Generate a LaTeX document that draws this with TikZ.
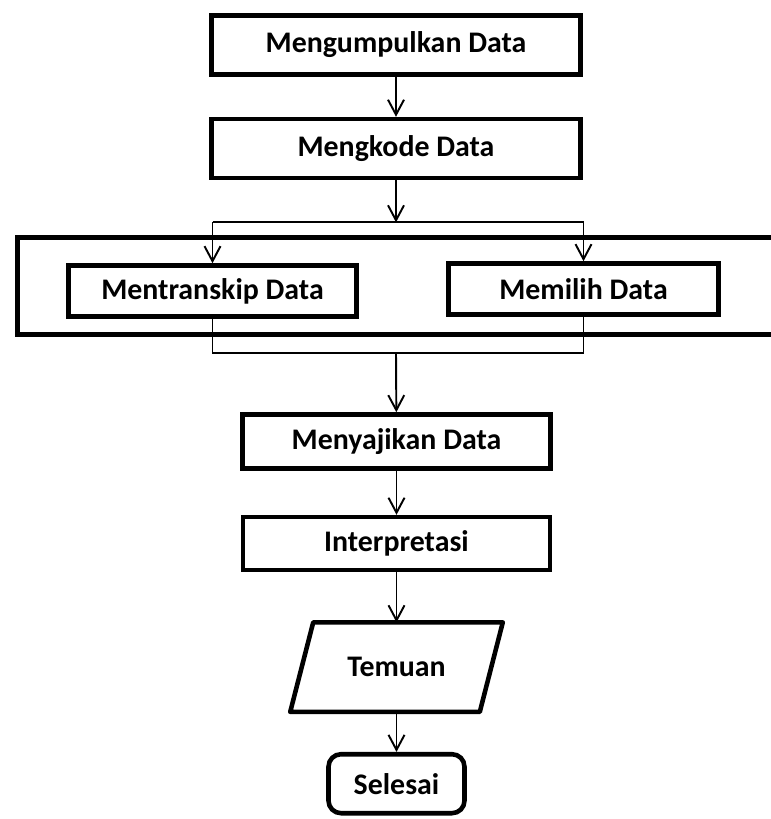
\documentclass[tikz,border=0pt]{standalone}
\usepackage{fontspec}
\setmainfont{Carlito}
\usepackage{tikz}
\usetikzlibrary{arrows.meta,shapes,positioning,calc}

\begin{document}
\begin{tikzpicture}[
    stepbox/.style={rectangle, draw, line width=2.6pt, minimum height=1.18cm, align=center, font=\fontsize{17}{20}\selectfont\bfseries},
    groupbox/.style={rectangle, draw, line width=2.6pt},
    iobox/.style={rectangle, outer sep=1.3pt, font=\fontsize{17}{20}\selectfont\bfseries},
    endbox/.style={rectangle, draw, line width=2.6pt, rounded corners=0.25cm, font=\fontsize{17}{20}\selectfont\bfseries},
    arrow/.style={-{Straight Barb[length=3mm,width=3.2mm]}, line width=1.1pt},
    link/.style={line width=1.1pt},
]
\useasboundingbox (0,0) rectangle (15.4,-16.38);
\node[stepbox, minimum width=7.38cm] (collect) at (7.92,-0.9) {Mengumpulkan Data};
\node[stepbox, minimum width=7.38cm, below=0.8cm of collect] (code) {Mengkode Data};
\coordinate (split) at ($(code.south)+(0,-0.84)$);

% kotak reduksi data
\node[groupbox, minimum width=15.65cm, minimum height=1.94cm] (group) at (8.175,-5.72) {};
\node[stepbox, minimum width=5.76cm, minimum height=1.02cm] (trans) at (4.25,-5.82) {Mentranskip Data};
\node[stepbox, minimum width=5.4cm, minimum height=1.02cm] (pick) at (11.67,-5.78) {Memilih Data};
\coordinate (merge) at (7.92,-7.06);

\node[stepbox, minimum width=6.16cm, minimum height=1.08cm] (show) at (7.93,-8.83) {Menyajikan Data};
\node[stepbox, minimum width=6.14cm, minimum height=1.06cm, below=0.88cm of show] (interp) {Interpretasi};
\node[iobox, minimum width=4.16cm, minimum height=1.7cm, below=1.0cm of interp] (find) {Temuan};
\draw[line width=2.6pt, line join=round] ($(find.north west)+(0.46,0)$) -- (find.north east)
    -- ($(find.south east)+(-0.46,0)$) -- (find.south west) -- cycle;
\node[endbox, minimum width=2.72cm, minimum height=1.18cm, below=0.8cm of find] (done) {Selesai};

\draw[arrow] (collect) -- (code);
\draw[arrow] (code) -- (split);
\draw[link] (trans.north |- split) -- (pick.north |- split);
\draw[arrow] (trans.north |- split) -- (trans);
\draw[arrow] (pick.north |- split) -- (pick);
\draw[link] (trans) -- (trans.south |- merge) -- (pick.south |- merge) -- (pick);
\draw[arrow] (merge) -- (show);
\draw[arrow] (show) -- (interp);
\draw[arrow] (interp) -- (find);
\draw[arrow] (find) -- (done);
\end{tikzpicture}
\end{document}
